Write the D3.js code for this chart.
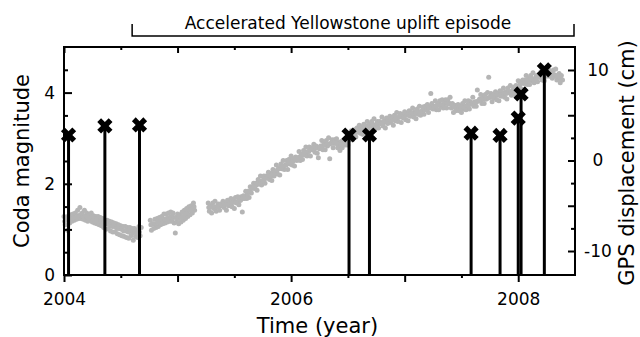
<!DOCTYPE html>
<html><head><meta charset="utf-8">
<script src="https://cdn.jsdelivr.net/npm/d3@7"></script>
<style>body{margin:0;background:#fff}svg{display:block}text{font-family:"DejaVu Sans",Verdana,sans-serif;fill:#000}</style>
</head><body><svg id="c" width="640" height="337"></svg>
<script>
// ---- data ----
const xDomain = [2004, 2008.5];
const leftDomain = [0, 5];
const rightDomain = [-12.65, 12.54];
const xMajorTicks = [2004, 2005, 2006, 2007, 2008];
const xMinorTicks = [2004.5, 2005.5, 2006.5, 2007.5];
const xLabelTicks = [2004, 2006, 2008];
const xTickLabels = ["2004", "2006", "2008"];
const leftMajorTicks = [0, 1, 2, 3, 4];
const leftMinorTicks = [0.5, 1.5, 2.5, 3.5, 4.5];
const leftLabelTicks = [0, 2, 4];
const leftTickLabels = ["0", "2", "4"];
const rightMajorTicks = [-10, -5, 0, 5, 10];
const rightMinorTicks = [-7.5, -2.5, 2.5, 7.5];
const rightLabelTicks = [-10, 0, 10];
const rightTickLabels = ["-10", "0", "10"];

// earthquakes (stems with X markers)
const eventYears = [2004.04, 2004.36, 2004.665, 2006.51, 2006.69, 2007.585, 2007.84, 2008.0, 2008.025, 2008.23];
const eventMags  = [3.07, 3.27, 3.29, 3.07, 3.07, 3.11, 3.06, 3.44, 3.97, 4.5];

// uplift episode bracket
const episodeStart = 2004.6, episodeEnd = 2008.5;
const episodeLabel = "Accelerated Yellowstone uplift episode";

// GPS displacement (cm), sampled every 0.01 yr, three continuous segments
const gpsStep = 0.01;
const gpsSegStarts = [2004.00, 2004.76, 2005.27];
const gpsSegA = [-6.2,-7.1,-6.4,-7.7,-6.1,-6.9,-6.0,-6.7,-5.9,-6.6,
  -5.8,-6.5,-5.5,-6.4,-5.2,-6.4,-5.8,-6.5,-5.5,-6.6,
  -5.8,-6.7,-6.0,-6.5,-5.8,-6.8,-6.1,-6.9,-6.2,-7.0,
  -6.2,-7.1,-6.3,-7.2,-6.4,-7.4,-6.7,-7.6,-6.6,-7.5,
  -6.7,-7.8,-6.8,-7.9,-6.9,-7.9,-7.0,-8.1,-7.1,-8.2,
  -7.2,-8.3,-7.3,-8.4,-7.3,-8.5,-7.4,-8.6,-7.4,-8.3,
  -7.5,-8.8,-7.5,-8.4,-7.7,-8.5,-7.3,-8.3,-7.4];
const gpsSegB = [-6.6,-7.7,-7.0,-7.5,-6.5,-7.4,-6.4,-7.3,-6.3,-7.1,
  -6.2,-7.0,-5.9,-6.9,-5.9,-6.8,-5.8,-6.7,-5.7,-6.7,
  -5.8,-6.9,-8.0,-6.8,-5.9,-7.0,-6.0,-6.8,-5.7,-6.6,
  -5.5,-6.4,-5.3,-6.2,-5.1,-6.0,-5.0,-5.8,-4.7,-5.5];
const gpsSegC = [-4.7,-5.6,-5.0,-5.8,-4.7,-5.3,-4.5,-5.6,-5.1,-4.8,
  -5.5,-4.8,-5.0,-4.5,-5.2,-4.7,-5.5,-4.4,-5.0,-4.7,
  -4.2,-5.1,-4.4,-5.3,-4.1,-4.7,-4.0,-4.9,-4.4,-4.0,
  -5.7,-3.9,-4.2,-3.4,-4.2,-3.4,-4.1,-2.9,-3.6,-2.9,
  -2.5,-3.1,-2.5,-3.3,-2.1,-2.6,-1.7,-2.7,-2.2,-1.7,
  -2.5,-1.7,-1.9,-1.3,-2.1,-1.4,-2.2,-1.0,-1.7,-1.2,
  -0.5,-1.5,-0.8,-1.6,-0.4,-0.9,0.0,-1.0,-0.5,0.0,
  -1.0,0.1,-0.4,0.5,-0.5,0.2,-0.6,0.4,0.0,0.3,
  1.0,0.0,0.7,0.1,1.1,0.6,1.5,0.5,1.0,1.5,
  0.5,1.4,1.2,1.8,0.9,1.6,0.8,0.3,1.3,1.6,
  2.2,1.2,1.9,1.2,2.2,1.6,2.5,0.2,1.9,2.3,
  1.4,2.3,1.9,2.4,1.4,2.0,1.1,2.1,1.4,1.9,
  2.3,1.7,2.3,1.7,2.8,2.3,3.3,2.3,2.9,3.4,
  2.6,3.6,3.3,3.9,3.0,3.7,2.9,4.0,3.4,3.8,
  4.3,3.3,4.0,3.3,4.3,3.7,4.6,3.5,4.0,4.3,
  3.6,4.3,4.1,4.8,3.8,4.4,3.6,4.7,4.1,4.4,
  4.9,4.2,4.7,3.9,5.0,4.4,5.3,4.3,4.8,5.2,
  4.2,5.1,4.7,5.4,4.5,5.2,4.4,5.5,4.9,5.3,
  5.8,4.8,5.4,4.6,5.7,5.1,6.0,5.0,5.4,5.9,
  5.1,6.0,5.6,6.2,5.3,6.0,7.4,6.3,5.7,6.0,
  6.6,5.6,6.3,5.6,6.6,6.0,6.7,5.8,6.3,6.7,
  5.8,6.7,6.3,7.0,5.8,6.3,5.3,6.1,5.5,5.9,
  6.2,5.5,6.0,5.3,6.3,5.7,6.6,5.6,6.1,6.6,
  5.7,6.5,6.3,7.0,6.0,6.5,6.0,7.8,6.6,6.8,
  7.3,6.3,7.0,6.3,7.3,6.8,7.5,9.2,7.0,7.4,
  6.5,7.3,6.9,7.6,6.7,7.4,6.6,7.7,7.1,7.5,
  8.0,7.0,7.6,6.8,8.0,7.5,8.3,7.2,7.7,8.1,
  7.3,8.3,8.0,8.8,8.1,8.7,7.9,8.9,8.5,8.9,
  9.4,8.4,9.1,8.4,9.4,8.8,9.7,8.6,9.1,9.4,
  8.7,9.5,9.2,9.8,8.9,9.6,8.8,9.9,9.3,9.7,
  10.0,9.3,9.8,9.1,10.0,9.3,10.1,8.9,9.3,9.6,
  8.6,9.4,8.9];

// second GPS station pass, every 0.02 yr, offset by half a sample
const gpsMidStep = 0.02;
const gpsMidStarts = [2004.005, 2004.765, 2005.275];
const gpsMidA = [-6.7,-6.5,-6.6,-6.4,-6.3,-6.3,-6.1,-6.0,-6.1,-6.2,
  -6.2,-6.3,-6.2,-6.4,-6.5,-6.7,-6.7,-6.9,-7.0,-7.0,
  -7.1,-7.3,-7.3,-7.5,-7.5,-7.6,-7.8,-7.8,-7.9,-7.8,
  -8.0,-7.9,-8.0,-7.9];
const gpsMidB = [-7.1,-7.0,-7.0,-6.8,-6.8,-6.6,-6.5,-6.4,-6.3,-6.2,
  -6.3,-6.3,-6.4,-6.3,-6.2,-5.9,-5.8,-5.5,-5.4,-5.1];
const gpsMidC = [-5.2,-5.1,-5.2,-5.1,-5.1,-5.0,-5.0,-4.9,-4.8,-4.8,
  -4.7,-4.6,-4.6,-4.5,-4.4,-4.2,-4.0,-3.7,-3.4,-3.1,
  -2.9,-2.7,-2.5,-2.3,-2.2,-2.0,-1.8,-1.7,-1.4,-1.3,
  -1.1,-0.9,-0.8,-0.6,-0.5,-0.3,-0.2,-0.1,0.1,0.2,
  0.4,0.6,0.7,0.9,1.0,1.2,1.3,1.4,1.4,1.5,
  1.6,1.7,1.8,1.8,1.9,1.9,1.9,1.8,1.7,1.7,
  1.9,2.1,2.4,2.7,3.0,3.1,3.4,3.5,3.5,3.6,
  3.7,3.8,3.9,3.9,4.0,4.1,4.1,4.2,4.3,4.4,
  4.5,4.5,4.6,4.7,4.8,4.8,4.9,5.0,5.0,5.1,
  5.2,5.2,5.3,5.4,5.5,5.6,5.7,5.8,5.8,5.9,
  6.0,6.1,6.1,6.2,6.3,6.3,6.3,6.2,5.9,5.7,
  5.8,5.8,5.9,6.0,6.1,6.2,6.3,6.4,6.5,6.6,
  6.7,6.8,6.8,6.9,7.0,7.0,7.1,7.2,7.2,7.3,
  7.4,7.4,7.5,7.6,7.8,8.0,8.2,8.4,8.6,8.7,
  8.8,8.9,9.0,9.0,9.1,9.2,9.3,9.4,9.4,9.5,
  9.5,9.6,9.5,9.4,9.3,9.0];

// ---- layout ----
const svg = d3.select("#c");
const L = 64, R = 575, T = 47, B = 275;
const x = d3.scaleLinear().domain(xDomain).range([L, R]);
const yL = d3.scaleLinear().domain(leftDomain).range([B, T]);
const yR = d3.scaleLinear().domain(rightDomain).range([B, T]);

const gps = [];
[gpsSegA, gpsSegB, gpsSegC].forEach((seg, s) => {
  seg.forEach((v, i) => gps.push({t: gpsSegStarts[s] + i * gpsStep, v}));
});
[gpsMidA, gpsMidB, gpsMidC].forEach((seg, s) => {
  seg.forEach((v, i) => gps.push({t: gpsMidStarts[s] + i * gpsMidStep, v}));
});

// GPS dots
svg.append("g").selectAll("circle").data(gps).join("circle")
  .attr("cx", d => x(d.t)).attr("cy", d => yR(d.v)).attr("r", 2.5)
  .attr("fill", "#b5b5b5");

// stems
const ev = eventYears.map((t, i) => ({t, m: eventMags[i]}));
svg.append("g").selectAll("line").data(ev).join("line")
  .attr("x1", d => x(d.t)).attr("x2", d => x(d.t))
  .attr("y1", yL(0)).attr("y2", d => yL(d.m))
  .attr("stroke", "#000").attr("stroke-width", 3);
svg.append("g").selectAll("path").data(ev).join("path")
  .attr("d", d3.symbol(d3.symbolCross, 145))
  .attr("transform", d => `translate(${x(d.t)},${yL(d.m)}) rotate(45)`)
  .attr("fill", "#000");

// axes
function fmt(ticks, labels) { return d => { const i = ticks.indexOf(d); return i >= 0 ? labels[i] : ""; }; }
function put(gen, tr) {
  const g = svg.append("g").attr("transform", tr).call(gen);
  g.select(".domain").remove();
  g.selectAll(".tick line").attr("stroke", "#000").attr("stroke-width", 2);
  g.selectAll("text").attr("font-size", 17).attr("font-family", '"DejaVu Sans",Verdana,sans-serif').attr("fill", "#000");
  return g;
}
put(d3.axisBottom(x).tickValues(xMajorTicks).tickSize(7).tickPadding(11).tickFormat(fmt(xLabelTicks, xTickLabels)), `translate(0,${B})`);
put(d3.axisBottom(x).tickValues(xMinorTicks).tickSize(3).tickFormat(""), `translate(0,${B})`);
put(d3.axisTop(x).tickValues(xMajorTicks).tickSize(-6).tickFormat(""), `translate(0,${T})`);
put(d3.axisTop(x).tickValues(xMinorTicks).tickSize(-3).tickFormat(""), `translate(0,${T})`);
put(d3.axisLeft(yL).tickValues(leftMajorTicks).tickSize(-8).tickPadding(9).tickFormat(fmt(leftLabelTicks, leftTickLabels)), `translate(${L},0)`);
put(d3.axisLeft(yL).tickValues(leftMinorTicks).tickSize(-4).tickFormat(""), `translate(${L},0)`);
const gr = put(d3.axisRight(yR).tickValues(rightMajorTicks).tickSize(-7).tickPadding(23).tickFormat(fmt(rightLabelTicks, rightTickLabels)), `translate(${R},0)`);
gr.selectAll("text").attr("text-anchor", "middle");
put(d3.axisRight(yR).tickValues(rightMinorTicks).tickSize(-4).tickFormat(""), `translate(${R},0)`);

// frame
svg.append("rect").attr("x", L).attr("y", T).attr("width", R - L).attr("height", B - T)
  .attr("fill", "none").attr("stroke", "#000").attr("stroke-width", 2);

// bracket + label
svg.append("path")
  .attr("d", `M${x(episodeStart)},24V36H${x(episodeEnd) - 1}V24`)
  .attr("fill", "none").attr("stroke", "#000").attr("stroke-width", 1.5);
svg.append("text").attr("x", 348).attr("y", 29).attr("text-anchor", "middle")
  .attr("font-size", 17).text(episodeLabel);

// axis titles
svg.append("text").attr("x", (L + R) / 2 - 2).attr("y", 333).attr("text-anchor", "middle")
  .attr("font-size", 21).text("Time (year)");
svg.append("text").attr("transform", `translate(29,${(T + B) / 2}) rotate(-90)`)
  .attr("text-anchor", "middle").attr("font-size", 21).text("Coda magnitude");
svg.append("text").attr("transform", `translate(634,${(T + B) / 2 + 2}) rotate(-90)`)
  .attr("text-anchor", "middle").attr("font-size", 21).text("GPS displacement (cm)");
</script></body></html>
